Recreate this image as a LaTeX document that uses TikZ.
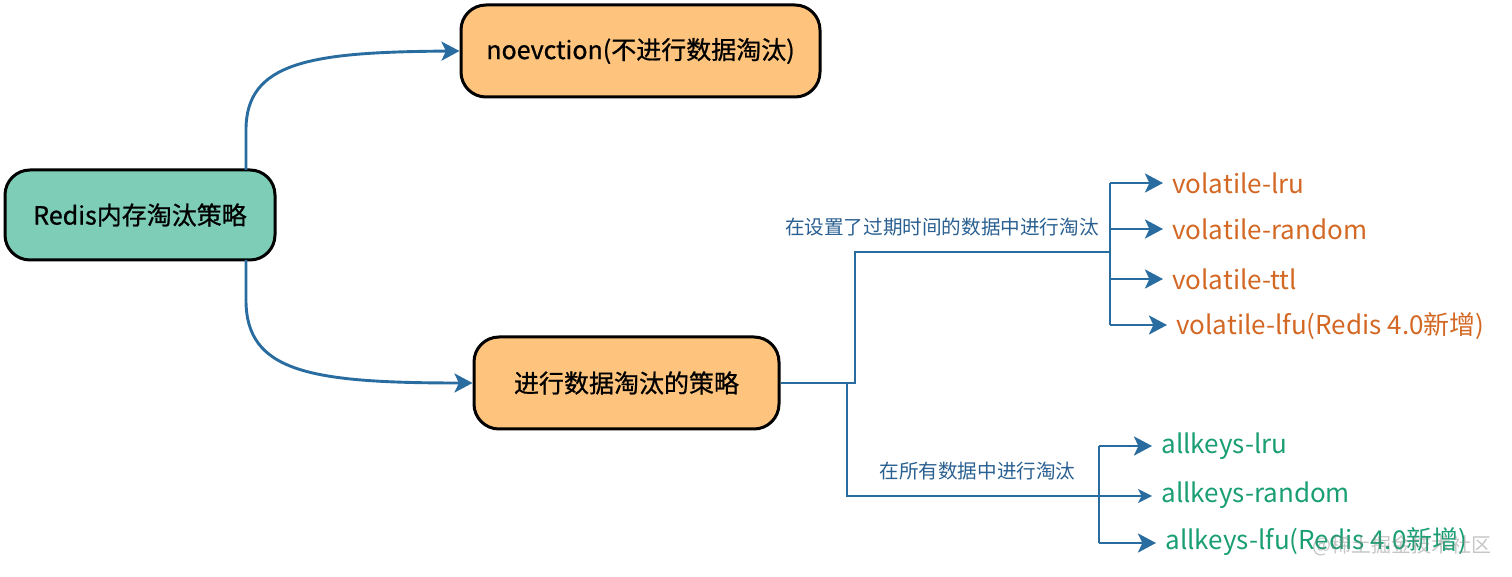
\documentclass[tikz,border=0pt]{standalone}
\usepackage{fontspec}
\setmainfont{Noto Sans CJK SC}
\newfontfamily\boxfont[FakeBold=0.8]{Noto Sans CJK SC}
\usetikzlibrary{arrows.meta}
\definecolor{conncol}{RGB}{41,108,160}
\definecolor{boxorange}{RGB}{254,196,126}
\definecolor{boxgreen}{RGB}{126,205,182}
\definecolor{volc}{RGB}{211,104,36}
\definecolor{allc}{RGB}{26,158,116}
\definecolor{lblc}{RGB}{42,96,145}
\begin{document}
\begin{tikzpicture}[x=0.5pt,y=-0.5pt,
  box/.style={draw=black, line width=1.5pt, rounded corners=12.5pt, inner sep=0pt,
    font=\boxfont\fontsize{12.5}{15}\selectfont},
  conn/.style={draw=conncol, line width=1.45pt},
  tipped/.style={-{Stealth[length=9pt,width=9.5pt,inset=2.2pt]}},
  thintipped/.style={-{Stealth[length=7pt,width=7pt,inset=1.8pt]}},
  leaf/.style={anchor=west, inner xsep=4.5pt, inner ysep=0pt, font=\fontsize{13}{15}\selectfont},
  vol/.style={leaf, text=volc},
  all/.style={leaf, text=allc},
  lbl/.style={text=lblc, font=\fontsize{9.8}{12}\selectfont, inner sep=0pt}
]
\useasboundingbox (0,0) rectangle (1512,577);

\node[box, fill=boxgreen, minimum width=135pt, minimum height=45pt] (root) at (140,215) {Redis内存淘汰策略};
\node[box, fill=boxorange, minimum width=179.5pt, minimum height=46pt] (noev) at (640.5,51) {noevction(不进行数据淘汰)};
\node[box, fill=boxorange, minimum width=152.5pt, minimum height=46pt] (strat) at (626.5,383) {进行数据淘汰的策略};

\coordinate (rt) at (246,170);
\coordinate (rb) at (246,260);
\draw[conn, tipped] (rt) -- (246,130) .. controls (246,62) and (310,52) .. (noev.west);
\draw[conn, tipped] (rb) -- (246,300) .. controls (246,372) and (310,383) .. (strat.west);

% volatile branch
\coordinate (j1) at (855,383);
\coordinate (j2) at (855,252);
\coordinate (vt) at (1110,183);
\coordinate (vb) at (1110,325);
\coordinate (vm) at (1110,252);
\draw[conn] (strat.east) -- (j1) -- (j2) -- (vm);
\draw[conn] (vt) -- (vb);

\node[vol] (v1) at (1163,183) {volatile-lru};
\node[vol] (v2) at (1163,229) {volatile-random};
\node[vol] (v3) at (1163,279) {volatile-ttl};
\node[vol] (v4) at (1167,326) {volatile-lfu(Redis 4.0新增)};

\draw[conn, tipped] (vt) -- (v1.west);
\draw[conn, tipped] (1110,229) -- (v2.west);
\draw[conn, tipped] (1110,279) -- (v3.west);
\draw[conn, tipped] (vb) -- (v4.west |- vb);

\node[lbl, anchor=east] (l1) at (1099,227) {在设置了过期时间的数据中进行淘汰};

% allkeys branch
\coordinate (k1) at (847,383);
\coordinate (k2) at (847,496);
\coordinate (at) at (1099,446);
\coordinate (am) at (1099,496);
\coordinate (ab) at (1099,543);
\draw[conn] (k1) -- (k2) -- (am);
\draw[conn] (at) -- (ab);

\node[all] (a1) at (1152,446) {allkeys-lru};
\node[all] (a2) at (1152,495) {allkeys-random};
\node[all] (a3) at (1156,542) {allkeys-lfu(Redis 4.0新增)};

\draw[conn, tipped] (at) -- (a1.west);
\draw[draw=conncol, line width=0.8pt, thintipped] (am) -- (a2.west |- am);
\draw[conn, tipped] (ab) -- (a3.west |- ab);

\node[lbl, anchor=west] (l2) at (879,471) {在所有数据中进行淘汰};

\node[text=gray, opacity=0.45, font=\fontsize{10}{12}\selectfont, anchor=east, inner sep=0pt] (wm) at (1492,546) {@稀土掘金技术社区};
\end{tikzpicture}
\end{document}
